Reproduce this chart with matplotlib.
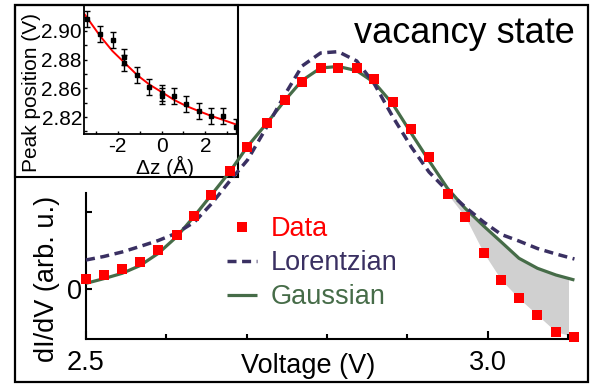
import matplotlib
matplotlib.use('Agg')
import matplotlib.pyplot as plt
from matplotlib.patches import Rectangle

plt.rcParams['font.family'] = ['Liberation Sans', 'DejaVu Sans']

# ---------------- main panel data ----------------
voltage = [2.500, 2.522, 2.545, 2.567, 2.590, 2.613, 2.635, 2.656, 2.679, 2.701,
           2.725, 2.748, 2.769, 2.792, 2.814, 2.837, 2.859, 2.882, 2.905, 2.927,
           2.950, 2.972, 2.995, 3.017, 3.039, 3.062, 3.085, 3.108]
didv_data = [0.126, 0.182, 0.264, 0.355, 0.506, 0.701, 0.952, 1.217, 1.532, 1.848,
             2.160, 2.455, 2.692, 2.866, 2.866, 2.866, 2.723, 2.432, 2.078, 1.718,
             1.234, 0.939, 0.471, 0.117, -0.121, -0.338, -0.555, -0.619]
gaussian = [0.074, 0.134, 0.204, 0.303, 0.463, 0.680, 0.948, 1.221, 1.523, 1.851,
            2.152, 2.455, 2.708, 2.870, 2.890, 2.835, 2.680, 2.400, 2.020, 1.666,
            1.308, 1.048, 0.818, 0.610, 0.399, 0.269, 0.182, 0.117]
lorentzian = [0.377, 0.422, 0.481, 0.552, 0.630, 0.727, 0.870, 1.104, 1.403, 1.675,
              2.104, 2.532, 2.896, 3.065, 3.082, 2.961, 2.662, 2.234, 1.844, 1.519,
              1.273, 1.065, 0.870, 0.708, 0.623, 0.526, 0.455, 0.390]
fill_start = 19

x_major = [2.5, 3.0]
x_major_labels = ['2.5', '3.0']
x_minor = [2.6, 2.7, 2.8, 2.9, 3.1]
y_major = [0, 1]
y_major_labels = ['0', '']

# ---------------- inset data ----------------
dz = [-3.39, -2.81, -2.23, -1.70, -1.70, -1.13, -0.56, 0.00, 0.00, 0.55, 1.12, 1.70, 2.27, 2.82, 3.40]
peak_pos = [2.9084, 2.8977, 2.8937, 2.8821, 2.8775, 2.8693, 2.8608, 2.8566, 2.8549,
            2.8549, 2.8493, 2.8445, 2.8408, 2.8408, 2.8333]
peak_err = [0.0056] * len(dz)
fit_dz = [-3.55, -3.39, -2.81, -2.25, -1.67, -1.10, -0.55, 0.02, 0.58, 1.13, 1.70, 2.27, 2.82, 3.38]
fit_peak = [2.9123, 2.9089, 2.8965, 2.8861, 2.8775, 2.8691, 2.8626, 2.8573, 2.8519,
            2.8477, 2.8442, 2.8408, 2.8380, 2.8350]
inset_x_major = [-2, 0, 2]
inset_x_minor = [-3, -1, 1, 3]
inset_y_major = [2.90, 2.88, 2.86, 2.84]
inset_y_labels = ['2.90', '2.88', '2.86', '2.82']
inset_y_minor = [2.91, 2.89, 2.87, 2.85, 2.83]

W, H = 595, 386
fig = plt.figure(figsize=(W / 100, H / 100), dpi=100)


def fx(px):
    return px / W


def fy(py):
    return 1 - py / H


C_GREEN = '#466c48'
C_PURPLE = '#3a3062'
C_RED = '#ff0000'

# ---------------- main axes ----------------
ax = fig.add_axes([fx(86), fy(339), (568 - 86) / W, (339 - 5) / H])
ax.set_facecolor('none')
ax.set_xlim(2.5, 3.1)
ax.set_ylim(-0.649, 3.688)
for s in ['top', 'right']:
    ax.spines[s].set_visible(False)
for s in ['left', 'bottom']:
    ax.spines[s].set_linewidth(1.5)
ax.spines['left'].set_bounds(-0.649, 1.247)

ax.set_xticks(x_major)
ax.set_xticklabels(x_major_labels)
ax.set_xticks(x_minor, minor=True)
ax.set_yticks(y_major)
ax.set_yticklabels(y_major_labels)
ax.tick_params(axis='x', which='major', direction='in', length=6, width=1.5,
               labelsize=19.5, pad=8)
ax.tick_params(axis='x', which='minor', direction='in', length=3.5, width=1.5)
ax.tick_params(axis='y', which='major', direction='in', length=4.5, width=1.5,
               labelsize=19.5, pad=3)

ax.fill_between(voltage[fill_start:], didv_data[fill_start:], gaussian[fill_start:],
                color='#d0d0d0', lw=0, zorder=1.5)
lg, = ax.plot(voltage, gaussian, color=C_GREEN, lw=2.3, zorder=3, clip_on=False,
              solid_capstyle='butt', solid_joinstyle='round')
ll, = ax.plot(voltage, lorentzian, color=C_PURPLE, lw=2.5, dashes=(2.6, 1.6),
              zorder=4, clip_on=False)
ld, = ax.plot(voltage, didv_data, 's', color=C_RED, ms=6.5, mew=0, zorder=5,
              clip_on=False)

# white inset box (below main curves)
box = Rectangle((fx(15), fy(177)), (238 - 15) / W, (177 - 5) / H,
                transform=fig.transFigure, facecolor='white', edgecolor='black',
                lw=1.5, zorder=1, clip_on=False)
ax.add_artist(box)

leg = ax.legend([ld, ll, lg], ['Data', 'Lorentzian', 'Gaussian'],
                loc='upper left', bbox_to_anchor=(fx(227), fy(216)),
                bbox_transform=fig.transFigure, frameon=False, fontsize=19.5,
                borderpad=0, borderaxespad=0, handlelength=1.1,
                handletextpad=0.5, labelspacing=0.3, numpoints=1)
for t, c in zip(leg.get_texts(), [C_RED, C_PURPLE, C_GREEN]):
    t.set_color(c)

fig.text(fx(47), fy(279), 'dI/dV (arb. u.)', rotation=90, ha='center', va='center',
         fontsize=19.5)
fig.text(fx(308.5), fy(366), 'Voltage (V)', ha='center', va='center', fontsize=19.5)
fig.text(fx(575), fy(43), 'vacancy state', ha='right', va='baseline', fontsize=26)

# ---------------- inset axes ----------------
ax2 = fig.add_axes([fx(84), fy(134), (237 - 84) / W, (134 - 6) / H])
ax2.set_facecolor('none')
ax2.set_xlim(-3.546, 3.45)
ax2.set_ylim(2.8282, 2.9174)
for s in ['top', 'right']:
    ax2.spines[s].set_visible(False)
for s in ['left', 'bottom']:
    ax2.spines[s].set_linewidth(1.3)
ax2.set_xticks(inset_x_major)
ax2.set_xticklabels([str(v) for v in inset_x_major])
ax2.set_xticks(inset_x_minor, minor=True)
ax2.set_yticks(inset_y_major)
ax2.set_yticklabels(inset_y_labels)
ax2.set_yticks(inset_y_minor, minor=True)
ax2.tick_params(which='both', direction='in', length=2.5, width=1, labelsize=15)
ax2.tick_params(axis='x', pad=2.5)
ax2.tick_params(axis='y', pad=1.5)
ax2.plot(fit_dz, fit_peak, color='red', lw=1.4, zorder=2)
ax2.errorbar(dz, peak_pos, yerr=peak_err, fmt='s', color='black', ms=3,
             elinewidth=1, capsize=2, capthick=1, zorder=3)

fig.text(fx(31.5), fy(92.5), 'Peak position (V)', rotation=90, ha='center',
         va='center', fontsize=15)
fig.text(fx(165), fy(167), 'Δz (Å)', ha='center', va='center', fontsize=15)

# outer frame
fig.add_artist(Rectangle((fx(15), fy(382)), (588 - 15) / W, (382 - 5) / H,
                         transform=fig.transFigure, fill=False, lw=1.6,
                         edgecolor='black', zorder=10))

fig.savefig('out.png', dpi=100)
